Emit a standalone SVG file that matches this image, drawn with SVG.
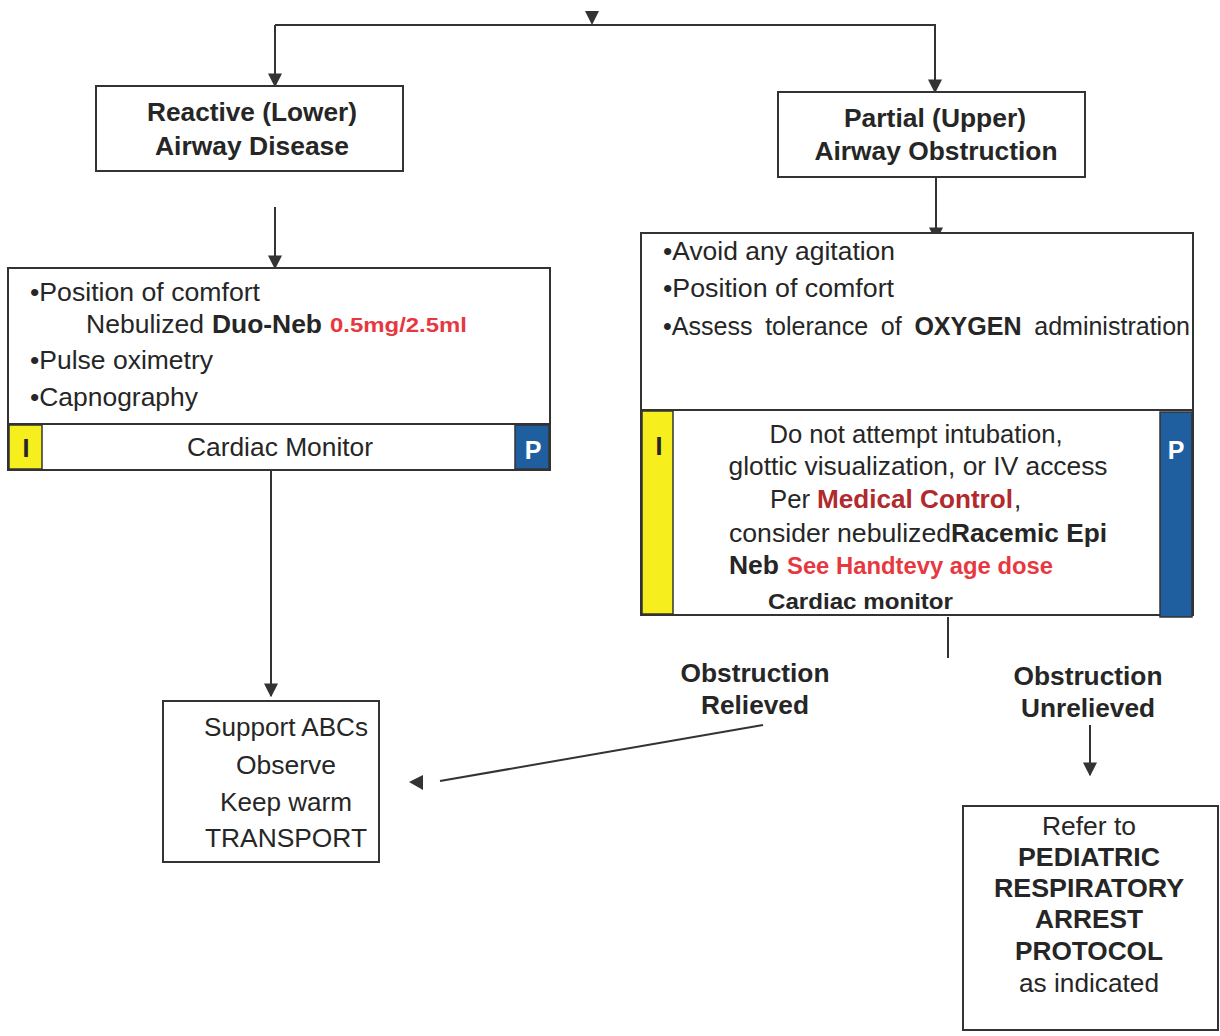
<svg xmlns="http://www.w3.org/2000/svg" width="1220" height="1036" viewBox="0 0 1220 1036">
<defs>
<style>
text{font-family:"Liberation Sans",Arial,sans-serif;fill:#262626}
.b{font-weight:bold}
.t{font-size:26px;font-weight:bold;text-anchor:middle}
.r{font-size:26px}
.box{fill:#fff;stroke:#333;stroke-width:2}
.ln{stroke:#333;stroke-width:2;fill:none}
.red{fill:#e8383f;font-weight:bold}
.dred{fill:#b02a2e;font-weight:bold}
.yel{fill:#f7ee1e;stroke:#333;stroke-width:1.5}
.blu{fill:#1f5f9f;stroke:#333;stroke-width:1.5}
</style>
<marker id="ah" viewBox="0 0 10 10" refX="9" refY="5" markerWidth="14" markerHeight="14" markerUnits="userSpaceOnUse" orient="auto">
<path d="M0,0 L10,5 L0,10 z" fill="#333"/>
</marker>
</defs>
<rect width="1220" height="1036" fill="#fff"/>

<g id="connectors">
<polygon points="585,11 599,11 592,25" fill="#333"/>
<polyline class="ln" points="275,25 935,25 935,92" marker-end="url(#ah)"/>
<line class="ln" x1="275" y1="25" x2="275" y2="86" marker-end="url(#ah)"/>
<line class="ln" x1="275" y1="207" x2="275" y2="268" marker-end="url(#ah)"/>
<line class="ln" x1="936" y1="178" x2="936" y2="240" marker-end="url(#ah)"/>
<line class="ln" x1="271" y1="470" x2="271" y2="696" marker-end="url(#ah)"/>
<line class="ln" x1="948" y1="617" x2="948" y2="658"/>
<line class="ln" x1="1090" y1="725" x2="1090" y2="775" marker-end="url(#ah)"/>
<line class="ln" x1="763" y1="725" x2="440" y2="781"/>
<polygon points="409,782 423,775 423,790" fill="#333"/>
</g>

<g id="reactive">
<rect class="box" x="96" y="86" width="307" height="85"/>
<text class="t" x="252" y="121" textLength="210" lengthAdjust="spacingAndGlyphs">Reactive (Lower)</text>
<text class="t" x="252" y="155" textLength="194" lengthAdjust="spacingAndGlyphs">Airway Disease</text>
</g>

<g id="partial">
<rect class="box" x="778" y="92" width="307" height="85"/>
<text class="t" x="935" y="127" textLength="182" lengthAdjust="spacingAndGlyphs">Partial (Upper)</text>
<text class="t" x="936" y="160" textLength="243" lengthAdjust="spacingAndGlyphs">Airway Obstruction</text>
</g>

<g id="lower-care">
<rect class="box" x="8" y="268" width="542" height="202"/>
<line class="ln" x1="8" y1="424" x2="550" y2="424"/>
<rect class="yel" x="9" y="425" width="33" height="44"/>
<rect class="blu" x="515" y="425" width="34" height="44"/>
<text class="r" x="30" y="301" textLength="230" lengthAdjust="spacingAndGlyphs">•Position of comfort</text>
<text class="r" x="86" y="333" textLength="118" lengthAdjust="spacingAndGlyphs">Nebulized</text>
<text class="r b" x="212" y="333" textLength="110" lengthAdjust="spacingAndGlyphs">Duo-Neb</text>
<text class="red" x="330" y="332" font-size="21" textLength="137" lengthAdjust="spacingAndGlyphs">0.5mg/2.5ml</text>
<text class="r" x="30" y="369" textLength="183" lengthAdjust="spacingAndGlyphs">•Pulse oximetry</text>
<text class="r" x="30" y="406" textLength="168" lengthAdjust="spacingAndGlyphs">•Capnography</text>
<text class="r" x="280" y="456" text-anchor="middle" textLength="186" lengthAdjust="spacingAndGlyphs">Cardiac Monitor</text>
<text class="b" x="26" y="457" font-size="25" text-anchor="middle">I</text>
<text class="b" x="533" y="459" font-size="25" text-anchor="middle" style="fill:#fff">P</text>
</g>

<g id="upper-care">
<rect class="box" x="641" y="233" width="552" height="382"/>
<line class="ln" x1="641" y1="410" x2="1193" y2="410"/>
<rect class="yel" x="642" y="411" width="31" height="203"/>
<rect class="blu" x="1160" y="412" width="32" height="205"/>
<text class="r" x="663" y="260" textLength="232" lengthAdjust="spacingAndGlyphs">•Avoid any agitation</text>
<text class="r" x="663" y="297" textLength="231" lengthAdjust="spacingAndGlyphs">•Position of comfort</text>
<text class="r" x="663" y="335" word-spacing="6" textLength="527" lengthAdjust="spacingAndGlyphs">•Assess tolerance of <tspan class="b">OXYGEN</tspan> administration</text>
<text class="b" x="659" y="455" font-size="25" text-anchor="middle">I</text>
<text class="b" x="1176" y="459" font-size="25" text-anchor="middle" style="fill:#fff">P</text>
<text class="r" x="916" y="443" text-anchor="middle" textLength="293" lengthAdjust="spacingAndGlyphs">Do not attempt intubation,</text>
<text class="r" x="918" y="475" text-anchor="middle" textLength="379" lengthAdjust="spacingAndGlyphs">glottic visualization, or IV access</text>
<text class="r" x="770" y="508" textLength="40" lengthAdjust="spacingAndGlyphs">Per</text>
<text class="r dred" x="817" y="508" textLength="196" lengthAdjust="spacingAndGlyphs">Medical Control</text>
<text class="r" x="1014" y="508">,</text>
<text class="r" x="729" y="542" textLength="222" lengthAdjust="spacingAndGlyphs">consider nebulized</text>
<text class="r b" x="951" y="542" textLength="156" lengthAdjust="spacingAndGlyphs">Racemic Epi</text>
<text class="r b" x="729" y="574" textLength="50" lengthAdjust="spacingAndGlyphs">Neb</text>
<text class="red" x="787" y="574" font-size="23" textLength="266" lengthAdjust="spacingAndGlyphs">See Handtevy age dose</text>
<text class="b" x="768" y="609" font-size="22" textLength="185" lengthAdjust="spacingAndGlyphs">Cardiac monitor</text>
</g>

<g id="label-relieved">
<text class="t" x="755" y="682" textLength="149" lengthAdjust="spacingAndGlyphs">Obstruction</text>
<text class="t" x="755" y="714" textLength="108" lengthAdjust="spacingAndGlyphs">Relieved</text>
</g>

<g id="label-unrelieved">
<text class="t" x="1088" y="685" textLength="149" lengthAdjust="spacingAndGlyphs">Obstruction</text>
<text class="t" x="1088" y="717" textLength="134" lengthAdjust="spacingAndGlyphs">Unrelieved</text>
</g>

<g id="support">
<rect class="box" x="163" y="701" width="216" height="161"/>
<text class="r" x="286" y="736" text-anchor="middle" textLength="164" lengthAdjust="spacingAndGlyphs">Support ABCs</text>
<text class="r" x="286" y="774" text-anchor="middle" textLength="100" lengthAdjust="spacingAndGlyphs">Observe</text>
<text class="r" x="286" y="811" text-anchor="middle" textLength="132" lengthAdjust="spacingAndGlyphs">Keep warm</text>
<text class="r" x="286" y="847" text-anchor="middle" textLength="162" lengthAdjust="spacingAndGlyphs">TRANSPORT</text>
</g>

<g id="refer">
<rect class="box" x="963" y="806" width="255" height="224"/>
<text class="r" x="1089" y="835" text-anchor="middle" textLength="94" lengthAdjust="spacingAndGlyphs">Refer to</text>
<text class="t" x="1089" y="866" textLength="142" lengthAdjust="spacingAndGlyphs">PEDIATRIC</text>
<text class="t" x="1089" y="897" textLength="190" lengthAdjust="spacingAndGlyphs">RESPIRATORY</text>
<text class="t" x="1089" y="928" textLength="108" lengthAdjust="spacingAndGlyphs">ARREST</text>
<text class="t" x="1089" y="960" textLength="148" lengthAdjust="spacingAndGlyphs">PROTOCOL</text>
<text class="r" x="1089" y="992" text-anchor="middle" textLength="140" lengthAdjust="spacingAndGlyphs">as indicated</text>
</g>
</svg>
